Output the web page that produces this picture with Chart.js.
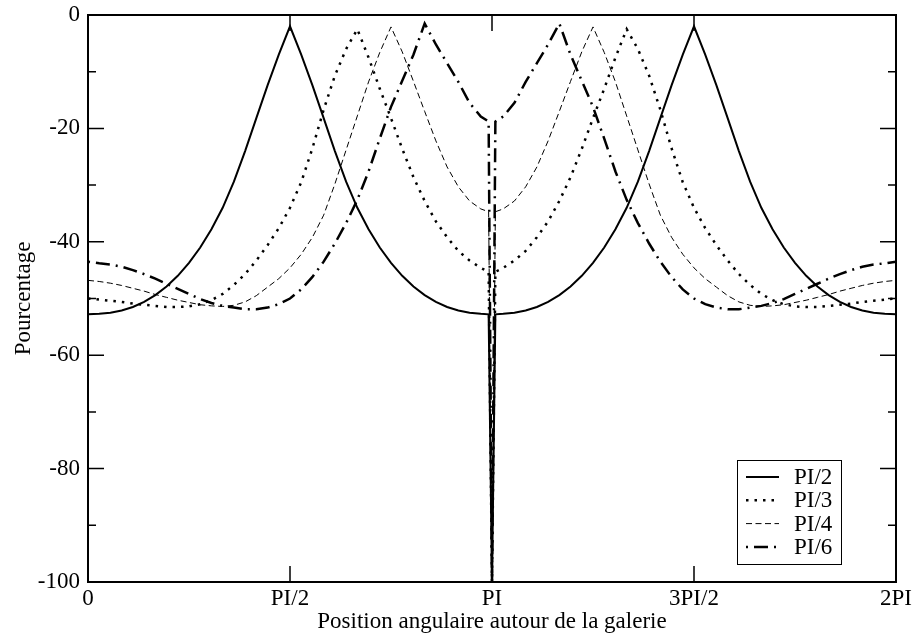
<!DOCTYPE html>
<html><head><meta charset="utf-8">
<script src="https://cdn.jsdelivr.net/npm/chart.js@4.4.1/dist/chart.umd.min.js"></script>
<style>html,body{margin:0;padding:0;background:#fff}canvas{display:block}</style>
</head><body>
<canvas id="c" width="919" height="638"></canvas>
<script>
// angular position in degrees (0..360 = 0..2PI)
const angles = [0,5,10,15,20,25,30,35,40,45,50,55,60,65,70,75,80,85,90,95,100,105,110,115,120,125,130,135,140,145,150,155,160,165,170,175,178.5,180,181.5,185,190,195,200,205,210,215,220,225,230,235,240,245,250,255,260,265,270,275,280,285,290,295,300,305,310,315,320,325,330,335,340,345,350,355,360];

const seriesNames = ['PI/2','PI/3','PI/4','PI/6'];

const valsPI2 = [-52.8,-52.7,-52.5,-52.1,-51.5,-50.6,-49.4,-47.9,-46.0,-43.7,-41.0,-37.8,-34.0,-29.4,-24.0,-18.2,-12.4,-7.0,-2.0,-7.0,-12.4,-18.2,-24.0,-29.4,-34.0,-37.8,-41.0,-43.7,-46.0,-47.9,-49.4,-50.6,-51.5,-52.1,-52.5,-52.7,-52.8,-100,-52.8,-52.7,-52.5,-52.1,-51.5,-50.6,-49.4,-47.9,-46.0,-43.7,-41.0,-37.8,-34.0,-29.4,-24.0,-18.2,-12.4,-7.0,-2.0,-7.0,-12.4,-18.2,-24.0,-29.4,-34.0,-37.8,-41.0,-43.7,-46.0,-47.9,-49.4,-50.6,-51.5,-52.1,-52.5,-52.7,-52.8];

const valsPI3 = [-50.0,-50.2,-50.4,-50.6,-50.9,-51.1,-51.3,-51.5,-51.5,-51.4,-51.0,-50.3,-49.2,-47.6,-45.7,-43.3,-40.6,-37.6,-34.0,-29.5,-23.5,-16.7,-10.7,-6.0,-2.5,-7.5,-13.0,-18.2,-23.6,-28.6,-32.8,-36.4,-39.2,-41.6,-43.3,-44.6,-45.3,-100,-45.3,-44.6,-43.3,-41.6,-39.2,-36.4,-32.8,-28.6,-23.6,-18.2,-13.0,-7.5,-2.5,-6.0,-10.7,-16.7,-23.5,-29.5,-34.0,-37.6,-40.6,-43.3,-45.7,-47.6,-49.2,-50.3,-51.0,-51.4,-51.5,-51.5,-51.3,-51.1,-50.9,-50.6,-50.4,-50.2,-50.0];

const valsPI4 = [-46.8,-47.0,-47.3,-47.7,-48.2,-48.7,-49.3,-49.8,-50.3,-50.7,-51.1,-51.3,-51.4,-51.2,-50.6,-49.5,-48.0,-46.5,-44.6,-42.2,-39.2,-35.3,-29.8,-23.8,-17.8,-11.8,-6.6,-2.1,-6.5,-11.7,-17.0,-22.2,-26.8,-30.3,-32.8,-34.2,-34.7,-100,-34.7,-34.2,-32.8,-30.3,-26.8,-22.2,-17.0,-11.7,-6.5,-2.1,-6.6,-11.8,-17.8,-23.8,-29.8,-35.3,-39.2,-42.2,-44.6,-46.5,-48.0,-49.5,-50.6,-51.2,-51.4,-51.3,-51.1,-50.7,-50.3,-49.8,-49.3,-48.7,-48.2,-47.7,-47.3,-47.0,-46.8];

const valsPI6 = [-43.5,-43.8,-44.0,-44.4,-45.0,-45.7,-46.5,-47.4,-48.3,-49.2,-50.1,-50.8,-51.3,-51.6,-51.9,-51.9,-51.6,-51.0,-50.0,-48.4,-46.2,-43.5,-40.3,-36.7,-32.6,-27.6,-21.8,-16.2,-11.6,-7.0,-1.5,-5.2,-8.5,-11.8,-15.5,-17.9,-18.8,-100,-18.8,-17.9,-15.5,-11.8,-8.5,-5.2,-1.5,-7.0,-11.6,-16.2,-21.8,-27.6,-32.6,-36.7,-40.3,-43.5,-46.2,-48.4,-50.0,-51.0,-51.6,-51.9,-51.9,-51.6,-51.3,-50.8,-50.1,-49.2,-48.3,-47.4,-46.5,-45.7,-45.0,-44.4,-44.0,-43.8,-43.5];

const xTickValues = [0,90,180,270,360];
const xTickLabels = ['0','PI/2','PI','3PI/2','2PI'];
const yMinorTickValues = [-10,-30,-50,-70,-90];
const xTitle = 'Position angulaire autour de la galerie';
const yTitle = 'Pourcentage';

const FONT = '"Liberation Serif", "Times New Roman", serif';
const FS = 23;
const styles = [
  {w:2,   dash:[]},
  {w:2.5, dash:[2.5,6]},
  {w:1,   dash:[6,3.5]},
  {w:2.5, dash:[2,6,14,6]}
];

const allVals = [valsPI2, valsPI3, valsPI4, valsPI6];
const datasets = allVals.map((v,i)=>({
  label: seriesNames[i],
  data: angles.map((a,k)=>({x:a, y:v[k]})),
  borderColor:'#000', borderWidth:styles[i].w, borderDash:styles[i].dash,
  borderCapStyle:'butt', borderJoinStyle:'miter',
  pointRadius:0, tension:0, fill:false
}));

const bgPlugin = {id:'bg', beforeDraw(chart){const c=chart.ctx;c.save();c.fillStyle='#fff';c.fillRect(0,0,chart.width,chart.height);c.restore();}};

const framePlugin = {id:'frame', afterDatasetsDraw(chart){
  const {ctx, chartArea:a, scales:{x,y}} = chart;
  ctx.save();
  ctx.strokeStyle='#000'; ctx.setLineDash([]);
  ctx.lineWidth=1.5;
  ctx.beginPath();
  const major=16, minor=8;
  xTickValues.forEach(v=>{const p=x.getPixelForValue(v);
    ctx.moveTo(p,a.bottom); ctx.lineTo(p,a.bottom-major);
    ctx.moveTo(p,a.top); ctx.lineTo(p,a.top+major);});
  y.ticks.forEach(t=>{const p=y.getPixelForValue(t.value);
    ctx.moveTo(a.left,p); ctx.lineTo(a.left+major,p);
    ctx.moveTo(a.right,p); ctx.lineTo(a.right-major,p);});
  yMinorTickValues.forEach(v=>{const p=y.getPixelForValue(v);
    ctx.moveTo(a.left,p); ctx.lineTo(a.left+minor,p);
    ctx.moveTo(a.right,p); ctx.lineTo(a.right-minor,p);});
  ctx.stroke();
  ctx.lineWidth=2;
  ctx.strokeRect(a.left,a.top,a.right-a.left,a.bottom-a.top);
  ctx.restore();
}};

const legendPlugin = {id:'lgd', afterDraw(chart){
  const {ctx, chartArea:a} = chart;
  const bw=104, bh=104;
  const left=a.right-55-bw, top=a.bottom-18-bh;
  ctx.save();
  ctx.fillStyle='#fff'; ctx.fillRect(left,top,bw,bh);
  ctx.strokeStyle='#000'; ctx.lineWidth=1; ctx.setLineDash([]);
  ctx.strokeRect(left+0.5,top+0.5,bw,bh);
  ctx.font = FS+'px '+FONT; ctx.fillStyle='#000';
  ctx.textAlign='left'; ctx.textBaseline='middle';
  seriesNames.forEach((n,i)=>{
    const yy = top+17+i*23.3;
    ctx.beginPath(); ctx.lineWidth=styles[i].w; ctx.setLineDash(styles[i].dash); ctx.lineCap='butt';
    ctx.moveTo(left+9,yy); ctx.lineTo(left+42,yy); ctx.stroke();
    ctx.setLineDash([]);
    ctx.fillText(n,left+57,yy+1);
  });
  ctx.restore();
}};

new Chart(document.getElementById('c'), {
  type:'line',
  data:{datasets},
  options:{
    responsive:false, animation:false, devicePixelRatio:1,
    layout:{padding:{top:15,right:23,left:0,bottom:0}},
    plugins:{legend:{display:false}, tooltip:{enabled:false}},
    scales:{
      x:{type:'linear', min:0, max:360,
        afterBuildTicks(s){ s.ticks = xTickValues.map(v=>({value:v})); },
        ticks:{callback:(v)=>xTickLabels[xTickValues.indexOf(v)], font:{family:FONT,size:FS}, color:'#000', padding:3, maxRotation:0, autoSkip:false},
        grid:{display:false, drawTicks:false}, border:{display:false},
        title:{display:true, text:xTitle, font:{family:FONT,size:FS}, color:'#000', padding:{top:0,bottom:2}},
        afterFit(s){ s.height = 56; s.paddingLeft = 0; s.paddingRight = 0; }
      },
      y:{type:'linear', min:-100, max:0,
        ticks:{stepSize:20, font:{family:FONT,size:FS}, color:'#000', padding:8},
        grid:{display:false, drawTicks:false}, border:{display:false},
        title:{display:true, text:yTitle, font:{family:FONT,size:FS}, color:'#000', padding:{top:10,bottom:0}},
        afterFit(s){ s.width = 88; s.paddingTop = 0; s.paddingBottom = 0; }
      }
    }
  },
  plugins:[bgPlugin, framePlugin, legendPlugin]
});
</script>
</body></html>
